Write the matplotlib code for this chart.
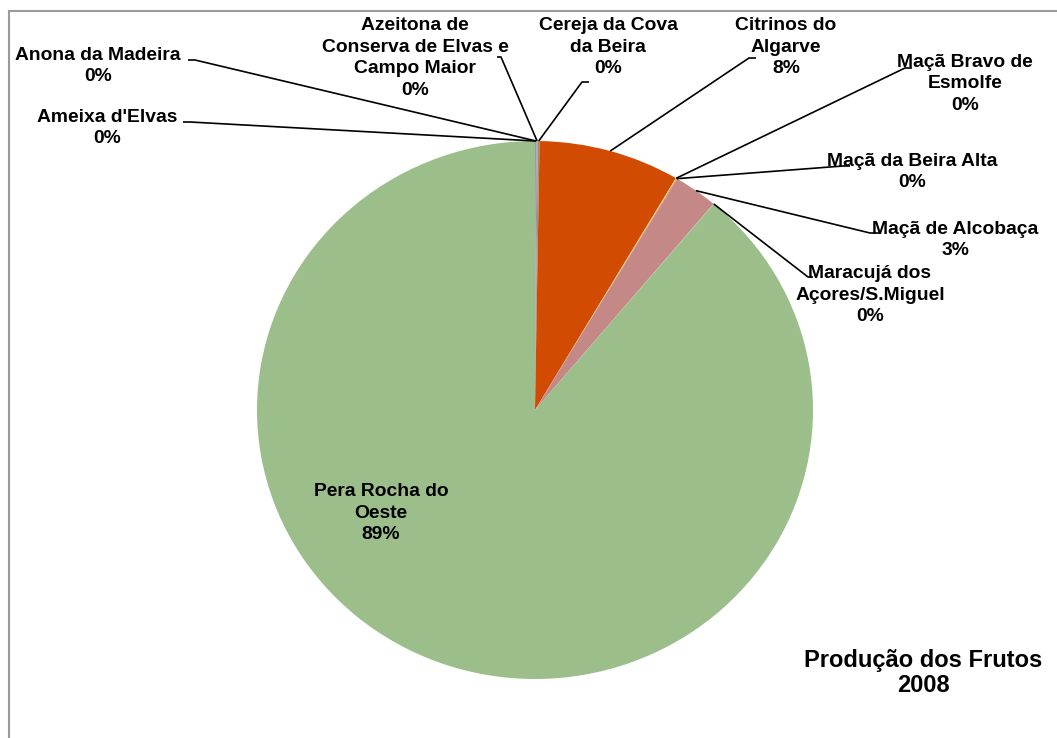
import numpy as np
import matplotlib.pyplot as plt
from matplotlib.lines import Line2D

# ---------------------------------------------------------------------------
# Dados: produção dos frutos 2008 (quota, %)
# ---------------------------------------------------------------------------
frutos = ["Ameixa d'Elvas", "Anona da Madeira",
          "Azeitona de\nConserva de Elvas e\nCampo Maior",
          "Cereja da Cova\nda Beira", "Citrinos do\nAlgarve",
          "Maçã Bravo de\nEsmolfe", "Maçã da Beira Alta",
          "Maçã de Alcobaça", "Maracujá dos\nAçores/S.Miguel",
          "Pera Rocha do\nOeste"]
quota = [0.05, 0.03, 0.08, 0.10, 8.20, 0.04, 0.05, 2.55, 0.02, 88.88]
cores = ['#8E7A9E', '#A5A5A5', '#7F9FBF', '#B08A60', '#D14B02',
         '#E3C46E', '#C9A85F', '#C48987', '#A9C47F', '#9BBE8B']

W, H = 1057, 738
CX, CY, RX, RY = 535, 410, 278, 269   # centro/raios da tarte em píxeis


def px(x, y):
    # píxeis da imagem -> coordenadas do eixo
    return (x - CX) / RX, (CY - y) / RY


fig = plt.figure(figsize=(W / 100, H / 100), dpi=100)
ax = fig.add_axes([(CX - RX) / W, (H - CY - RY) / H, 2 * RX / W, 2 * RY / H])

wedges, _ = ax.pie(quota, colors=cores, startangle=90, counterclock=False,
                   wedgeprops=dict(linewidth=0))
ax.set_aspect('auto')
ax.set_xlim(-1, 1)
ax.set_ylim(-1, 1)
ax.axis('off')

fonte = dict(family=['Liberation Sans', 'DejaVu Sans'], fontweight='bold',
             fontsize=13.9, ha='center', va='center', color='black',
             linespacing=1.37)

# posição do texto e ponta da linha guia (slant end, horizontal end)
layout = [
    ((107, 128), (190, 122), (183, 122)),
    ((98, 66), (195, 60), (188, 60)),
    ((415, 58), (501, 57), (497, 57)),
    ((608, 47), (582, 82), (589, 82)),
    ((786, 47), (749, 58), (756, 58)),
    ((965, 84), (905, 68), (912, 68)),
    ((912, 172), (843, 166), (850, 166)),
    ((955, 240), (870, 233), (880, 233)),
    ((870, 295), (808, 277), (813, 277)),
    ((381, 513), None, None),
]

for w, nome, q, (pos, p1, p2) in zip(wedges, frutos, quota, layout):
    txt = f"{nome}\n{q:.0f}%"
    ax.text(*px(*pos), txt, clip_on=False, **fonte)
    if p1 is None:
        continue
    ang = np.deg2rad((w.theta1 + w.theta2) / 2)
    ancora = (np.cos(ang), np.sin(ang))
    a, b = px(*p1), px(*p2)
    ax.plot([ancora[0], a[0], b[0]], [ancora[1], a[1], b[1]],
            color='black', lw=1.2, clip_on=False, solid_capstyle='butt')

# título no canto inferior direito
ax.text(*px(923, 673), "Produção dos Frutos\n2008", clip_on=False,
        **{**fonte, 'fontsize': 17, 'linespacing': 1.15})

# moldura cinzenta (só topo e lado esquerdo visíveis)
bx, by = 8.5 / W, 1 - 10.5 / H
fig.add_artist(Line2D([bx, 1.0], [by, by], color='#9A9A9A', lw=1.5))
fig.add_artist(Line2D([bx, bx], [0.0, by], color='#9A9A9A', lw=1.5))

fig.savefig('out.png', dpi=100, facecolor='white')
